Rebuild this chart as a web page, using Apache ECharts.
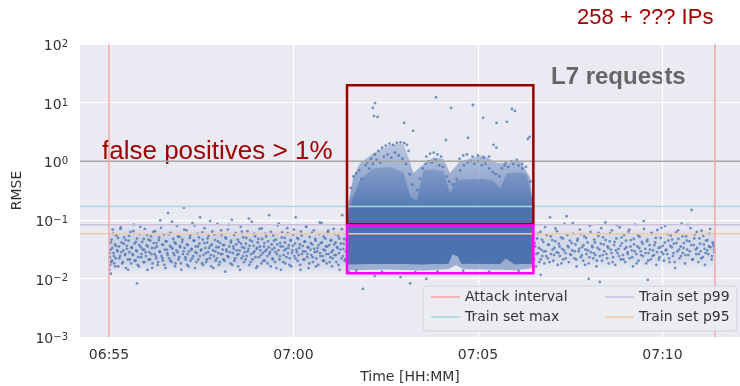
<!DOCTYPE html>
<html>
<head>
<meta charset="utf-8">
<script src="https://cdn.jsdelivr.net/npm/echarts@6/dist/echarts.min.js"></script>
<style>
  html, body { margin: 0; padding: 0; background: #fff; }
  #chart { width: 740px; height: 386px; }
</style>
</head>
<body>
<div id="chart"></div>
<script>
// x values are minutes after 06:00
const xTicks = [55, 60, 65, 70];
const xRange = [54.214, 72.1];
const attackInterval = [55.0, 71.42];
const trainMax = 0.169;
const trainP99 = 0.082;
const trainP95 = 0.058;
const onePercent = 1.0;
// [x0, x1, yBottom, yTop]
const redBox = [61.45, 66.5, 0.084, 19.7];
const magentaBox = [61.45, 66.5, 0.0123, 0.08];

// dense attack cloud, envelopes
const coreTop = [[61.45,0.1],[61.5,0.15],[61.6,0.165],[62.5,0.168],[63.2,0.16],[63.4,0.165],[64.3,0.166],[65.5,0.165],[66.4,0.165],[66.5,0.12]];
const coreBottom = [[61.45,0.02],[61.5,0.0175],[62.5,0.0178],[63.5,0.0175],[64.2,0.018],[64.3,0.026],[64.45,0.024],[64.55,0.018],[65.6,0.0178],[65.75,0.022],[65.85,0.02],[66.0,0.0175],[66.5,0.018]];
const fringeBottom = [[61.45,0.016],[61.5,0.0138],[62.5,0.0142],[63.5,0.0136],[64.2,0.0145],[64.4,0.017],[64.6,0.0145],[65.6,0.014],[66.0,0.0138],[66.5,0.015]];
const midLowTop = [[61.45,0.11],[61.62,0.25],[61.8,0.48],[62.16,0.75],[62.62,0.8],[62.98,0.65],[63.16,0.25],[63.34,0.21],[63.52,0.7],[63.79,0.72],[64.06,0.68],[64.24,0.28],[64.42,0.48],[65.14,0.5],[65.41,0.46],[65.6,0.35],[65.78,0.63],[66.14,0.65],[66.32,0.6],[66.45,0.25],[66.5,0.12]];
const midHighTop = [[61.45,0.14],[61.62,0.53],[61.8,0.93],[62.16,1.37],[62.62,1.9],[62.98,2.0],[63.11,1.17],[63.25,0.63],[63.43,0.8],[63.79,1.17],[64.06,1.1],[64.24,0.63],[64.51,1.0],[65.14,1.27],[65.51,0.93],[65.78,0.93],[66.14,1.0],[66.41,0.53],[66.5,0.15]];
const preHazeTop = [[55.0,0.09],[61.45,0.09]];
const preHazeBottom = [[55.0,0.012],[61.45,0.012]];
const postHazeTop = [[66.5,0.085],[71.42,0.085]];
const postHazeBottom = [[66.5,0.014],[71.42,0.014]];

const preAttack = [
 [55.01,0.014],[55.02,0.023],[55.03,0.017],[55.04,0.031],[55.05,0.012],[55.07,0.046],[55.08,0.02],[55.1,0.068],[55.12,0.027],[55.14,0.018],
 [55.16,0.038],[55.18,0.022],[55.2,0.054],[55.23,0.029],[55.25,0.016],[55.27,0.035],[55.3,0.024],[55.32,0.074],[55.34,0.041],[55.37,0.019],
 [55.39,0.03],[55.41,0.05],[55.44,0.026],[55.46,0.015],[55.48,0.036],[55.51,0.021],[55.53,0.044],[55.55,0.028],[55.58,0.062],[55.6,0.018],
 [55.62,0.033],[55.65,0.025],[55.67,0.083],[55.69,0.039],[55.72,0.02],[55.74,0.03],[55.76,0.048],[55.79,0.023],[55.81,0.016],[55.83,0.057],
 [55.86,0.034],[55.88,0.026],[55.9,0.042],[55.93,0.019],[55.95,0.031],[55.97,0.07],[56.0,0.024],[56.02,0.037],[56.04,0.014],[56.07,0.046],
 [56.09,0.028],[56.11,0.021],[56.14,0.052],[56.16,0.033],[56.18,0.018],[56.21,0.04],[56.23,0.026],[56.25,0.064],[56.28,0.022],[56.3,0.035],
 [56.32,0.017],[56.35,0.045],[56.37,0.029],[56.39,0.098],[56.42,0.024],[56.44,0.038],[56.46,0.02],[56.49,0.056],[56.51,0.031],[56.53,0.015],
 [56.56,0.043],[56.58,0.027],[56.6,0.13],[56.63,0.022],[56.65,0.036],[56.67,0.06],[56.7,0.019],[56.72,0.032],[56.74,0.047],[56.77,0.025],
 [56.79,0.016],[56.81,0.039],[56.84,0.078],[56.86,0.028],[56.88,0.021],[56.91,0.051],[56.93,0.034],[56.95,0.018],[56.98,0.042],[57.0,0.026],
 [57.03,0.16],[57.05,0.033],[57.07,0.023],[57.1,0.066],[57.12,0.017],[57.14,0.037],[57.17,0.029],[57.19,0.049],[57.21,0.02],[57.24,0.031],
 [57.26,0.088],[57.28,0.024],[57.31,0.044],[57.33,0.015],[57.35,0.035],[57.38,0.027],[57.4,0.058],[57.42,0.021],[57.45,0.039],[57.47,0.11],
 [57.49,0.03],[57.52,0.018],[57.54,0.046],[57.56,0.025],[57.59,0.072],[57.61,0.033],[57.63,0.019],[57.66,0.041],[57.68,0.028],[57.7,0.053],
 [57.73,0.022],[57.75,0.036],[57.77,0.016],[57.8,0.063],[57.82,0.03],[57.84,0.024],[57.87,0.045],[57.89,0.02],[57.91,0.034],[57.94,0.085],
 [57.96,0.027],[57.98,0.017],[58.01,0.04],[58.03,0.026],[58.05,0.055],[58.08,0.031],[58.1,0.021],[58.12,0.037],[58.15,0.013],[58.17,0.048],
 [58.19,0.029],[58.22,0.068],[58.24,0.023],[58.26,0.035],[58.29,0.018],[58.31,0.044],[58.33,0.1],[58.36,0.027],[58.38,0.032],[58.4,0.02],
 [58.43,0.059],[58.45,0.038],[58.47,0.025],[58.5,0.016],[58.52,0.042],[58.54,0.03],[58.57,0.076],[58.59,0.022],[58.61,0.034],[58.64,0.05],
 [58.66,0.019],[58.68,0.028],[58.71,0.039],[58.73,0.024],[58.75,0.064],[58.78,0.032],[58.8,0.017],[58.82,0.045],[58.85,0.026],[58.87,0.093],
 [58.89,0.021],[58.92,0.036],[58.94,0.029],[58.96,0.052],[58.99,0.015],[59.01,0.033],[59.03,0.041],[59.06,0.023],[59.08,0.07],[59.1,0.03],
 [59.13,0.018],[59.15,0.047],[59.17,0.027],[59.2,0.035],[59.22,0.02],[59.24,0.058],[59.27,0.031],[59.29,0.024],[59.31,0.043],[59.34,0.12],
 [59.36,0.028],[59.38,0.016],[59.41,0.038],[59.43,0.022],[59.45,0.054],[59.48,0.033],[59.5,0.019],[59.52,0.046],[59.55,0.026],[59.57,0.08],
 [59.59,0.03],[59.62,0.021],[59.64,0.04],[59.66,0.014],[59.69,0.061],[59.71,0.035],[59.73,0.025],[59.76,0.049],[59.78,0.018],[59.8,0.032],
 [59.83,0.072],[59.85,0.027],[59.87,0.037],[59.9,0.022],[59.92,0.044],[59.94,0.016],[59.97,0.03],[59.99,0.056],[60.02,0.024],[60.04,0.039],
 [60.06,0.11],[60.09,0.028],[60.11,0.02],[60.13,0.047],[60.16,0.033],[60.18,0.017],[60.2,0.063],[60.23,0.026],[60.25,0.036],[60.27,0.021],
 [60.3,0.042],[60.32,0.029],[60.34,0.075],[60.37,0.023],[60.39,0.034],[60.41,0.015],[60.44,0.051],[60.46,0.031],[60.48,0.025],[60.51,0.038],
 [60.53,0.019],[60.55,0.066],[60.58,0.028],[60.6,0.044],[60.62,0.022],[60.65,0.033],[60.67,0.017],[60.69,0.057],[60.72,0.027],[60.74,0.04],
 [60.76,0.088],[60.79,0.024],[60.81,0.031],[60.83,0.02],[60.86,0.048],[60.88,0.035],[60.9,0.018],[60.93,0.062],[60.95,0.026],[60.97,0.037],
 [61.0,0.023],[61.02,0.045],[61.04,0.016],[61.07,0.03],[61.09,0.07],[61.11,0.025],[61.14,0.041],[61.16,0.019],[61.18,0.034],[61.21,0.053],
 [61.23,0.027],[61.25,0.014],[61.28,0.039],[61.3,0.022],[61.32,0.12],[61.35,0.032],[61.37,0.047],[61.39,0.02],[61.42,0.029],[61.44,0.036]
];

const preAttack2 = [
 [55.015,0.027],[55.045,0.041],[55.06,0.019],[55.09,0.033],[55.11,0.058],[55.135,0.024],[55.17,0.016],[55.19,0.036],[55.22,0.03],[55.245,0.049],
 [55.28,0.022],[55.31,0.07],[55.335,0.028],[55.36,0.018],[55.4,0.039],[55.43,0.025],[55.45,0.045],[55.49,0.032],[55.52,0.014],[55.545,0.053],
 [55.57,0.021],[55.61,0.034],[55.64,0.026],[55.66,0.064],[55.7,0.02],[55.73,0.042],[55.75,0.029],[55.78,0.017],[55.82,0.037],[55.845,0.076],
 [55.87,0.023],[55.91,0.031],[55.94,0.047],[55.96,0.019],[55.99,0.028],[56.03,0.055],[56.05,0.035],[56.08,0.021],[56.12,0.044],[56.15,0.026],
 [56.17,0.015],[56.2,0.062],[56.24,0.033],[56.27,0.024],[56.29,0.04],[56.33,0.019],[56.36,0.05],[56.38,0.028],[56.41,0.073],[56.45,0.022],
 [56.47,0.037],[56.5,0.017],[56.54,0.043],[56.57,0.031],[56.59,0.025],[56.62,0.057],[56.66,0.02],[56.69,0.034],[56.71,0.093],[56.75,0.027],
 [56.78,0.041],[56.8,0.018],[56.83,0.03],[56.87,0.052],[56.9,0.023],[56.92,0.036],[56.96,0.014],[56.99,0.046],[57.02,0.029],[57.04,0.068],
 [57.08,0.021],[57.11,0.038],[57.13,0.026],[57.16,0.016],[57.2,0.054],[57.23,0.032],[57.25,0.022],[57.29,0.044],[57.32,0.079],[57.34,0.028],
 [57.37,0.019],[57.41,0.035],[57.44,0.05],[57.46,0.024],[57.5,0.031],[57.53,0.061],[57.55,0.017],[57.58,0.04],[57.62,0.027],[57.65,0.021],
 [57.67,0.048],[57.71,0.033],[57.74,0.095],[57.76,0.025],[57.79,0.038],[57.83,0.015],[57.86,0.056],[57.88,0.029],[57.92,0.022],[57.95,0.043],
 [57.97,0.034],[58.0,0.019],[58.04,0.066],[58.07,0.026],[58.09,0.037],[58.13,0.02],[58.16,0.05],[58.18,0.031],[58.21,0.024],[58.25,0.082],
 [58.28,0.028],[58.3,0.041],[58.34,0.017],[58.37,0.035],[58.39,0.055],[58.42,0.022],[58.46,0.03],[58.49,0.046],[58.51,0.026],[58.55,0.014],
 [58.58,0.039],[58.6,0.063],[58.63,0.024],[58.67,0.033],[58.7,0.021],[58.72,0.049],[58.76,0.029],[58.79,0.105],[58.81,0.036],[58.84,0.019],
 [58.88,0.043],[58.91,0.027],[58.93,0.058],[58.97,0.023],[59.0,0.032],[59.02,0.016],[59.05,0.047],[59.09,0.035],[59.12,0.025],[59.14,0.071],
 [59.18,0.02],[59.21,0.04],[59.23,0.029],[59.26,0.052],[59.3,0.018],[59.33,0.034],[59.35,0.026],[59.39,0.062],[59.42,0.031],[59.44,0.021],
 [59.47,0.044],[59.51,0.028],[59.54,0.015],[59.56,0.038],[59.6,0.086],[59.63,0.024],[59.65,0.035],[59.68,0.05],[59.72,0.019],[59.75,0.03],
 [59.77,0.041],[59.81,0.023],[59.84,0.059],[59.86,0.033],[59.89,0.017],[59.93,0.045],[59.96,0.027],[59.98,0.036],[60.01,0.068],[60.05,0.022],
 [60.08,0.031],[60.1,0.049],[60.14,0.025],[60.17,0.038],[60.19,0.014],[60.22,0.054],[60.26,0.029],[60.29,0.021],[60.31,0.043],[60.35,0.077],
 [60.38,0.026],[60.4,0.034],[60.43,0.018],[60.47,0.04],[60.5,0.06],[60.52,0.023],[60.56,0.032],[60.59,0.047],[60.61,0.016],[60.64,0.029],
 [60.68,0.037],[60.71,0.09],[60.73,0.024],[60.77,0.041],[60.8,0.02],[60.82,0.052],[60.85,0.03],[60.89,0.026],[60.92,0.035],[60.94,0.065],
 [60.98,0.019],[61.01,0.044],[61.03,0.028],[61.06,0.022],[61.1,0.038],[61.13,0.057],[61.15,0.025],[61.19,0.033],[61.22,0.017],[61.24,0.048],
 [61.27,0.031],[61.31,0.069],[61.34,0.024],[61.36,0.039],[61.4,0.021],[61.43,0.045]
];

const postAttack = [
 [66.52,0.021],[66.55,0.035],[66.57,0.016],[66.6,0.048],[66.63,0.027],[66.66,0.019],[66.69,0.062],[66.71,0.031],[66.74,0.024],[66.77,0.042],
 [66.8,0.018],[66.83,0.029],[66.86,0.055],[66.89,0.022],[66.92,0.037],[66.95,0.11],[66.98,0.026],[67.01,0.045],[67.04,0.02],[67.07,0.033],
 [67.1,0.071],[67.13,0.028],[67.16,0.017],[67.19,0.039],[67.22,0.024],[67.25,0.05],[67.28,0.032],[67.31,0.021],[67.34,0.085],[67.37,0.027],
 [67.4,0.115],[67.43,0.036],[67.46,0.019],[67.49,0.044],[67.52,0.025],[67.55,0.03],[67.58,0.058],[67.61,0.022],[67.64,0.038],[67.67,0.016],
 [67.7,0.047],[67.73,0.029],[67.76,0.068],[67.79,0.023],[67.82,0.034],[67.85,0.02],[67.88,0.052],[67.91,0.031],[67.94,0.026],[67.97,0.041],
 [68.0,0.018],[68.03,0.079],[68.06,0.028],[68.09,0.036],[68.12,0.022],[68.15,0.046],[68.18,0.025],[68.21,0.016],[68.24,0.033],[68.27,0.06],
 [68.3,0.024],[68.33,0.039],[68.36,0.02],[68.39,0.05],[68.42,0.029],[68.45,0.09],[68.48,0.026],[68.51,0.035],[68.54,0.018],[68.57,0.043],
 [68.6,0.031],[68.63,0.066],[68.66,0.023],[68.69,0.037],[68.72,0.017],[68.75,0.048],[68.78,0.027],[68.81,0.032],[68.84,0.074],[68.87,0.021],
 [68.9,0.04],[68.93,0.025],[68.96,0.055],[68.99,0.019],[69.02,0.034],[69.05,0.028],[69.08,0.063],[69.11,0.022],[69.14,0.045],[69.17,0.03],
 [69.2,0.016],[69.23,0.038],[69.26,0.083],[69.29,0.026],[69.32,0.035],[69.35,0.02],[69.38,0.051],[69.41,0.029],[69.44,0.042],[69.47,0.024],
 [69.5,0.07],[69.53,0.032],[69.56,0.018],[69.59,0.046],[69.62,0.027],[69.65,0.037],[69.68,0.021],[69.71,0.058],[69.74,0.03],[69.77,0.025],
 [69.8,0.041],[69.83,0.017],[69.86,0.067],[69.89,0.033],[69.92,0.023],[69.95,0.049],[69.98,0.028],[70.01,0.036],[70.04,0.02],[70.07,0.078],
 [70.1,0.031],[70.13,0.026],[70.16,0.044],[70.19,0.019],[70.22,0.054],[70.25,0.034],[70.28,0.024],[70.31,0.039],[70.34,0.015],[70.37,0.061],
 [70.4,0.029],[70.43,0.047],[70.46,0.022],[70.49,0.035],[70.52,0.086],[70.55,0.027],[70.58,0.04],[70.61,0.018],[70.64,0.052],[70.67,0.031],
 [70.7,0.025],[70.73,0.043],[70.76,0.072],[70.79,0.147],[70.82,0.021],[70.85,0.037],[70.88,0.056],[70.91,0.026],[70.94,0.033],[70.97,0.019],
 [71.0,0.048],[71.03,0.029],[71.06,0.065],[71.09,0.023],[71.12,0.038],[71.15,0.017],[71.18,0.044],[71.21,0.03],[71.24,0.026],[71.27,0.058],
 [71.3,0.034],[71.33,0.021],[71.36,0.041],[71.39,0.035],[71.41,0.028]
];

const postAttack2 = [
 [66.535,0.04],[66.58,0.026],[66.62,0.058],[66.65,0.033],[66.7,0.021],[66.73,0.046],[66.78,0.029],[66.82,0.075],[66.85,0.024],[66.9,0.038],
 [66.94,0.019],[66.97,0.052],[67.02,0.031],[67.06,0.025],[67.09,0.043],[67.14,0.064],[67.18,0.027],[67.21,0.035],[67.26,0.018],[67.3,0.048],
 [67.33,0.03],[67.38,0.022],[67.42,0.055],[67.45,0.034],[67.5,0.026],[67.54,0.04],[67.57,0.088],[67.62,0.029],[67.66,0.021],[67.69,0.044],
 [67.74,0.032],[67.78,0.057],[67.81,0.025],[67.86,0.037],[67.9,0.017],[67.93,0.049],[67.98,0.03],[68.02,0.023],[68.05,0.062],[68.1,0.034],
 [68.14,0.027],[68.17,0.041],[68.22,0.02],[68.26,0.053],[68.29,0.031],[68.34,0.072],[68.38,0.025],[68.41,0.038],[68.46,0.045],[68.5,0.022],
 [68.53,0.033],[68.58,0.059],[68.62,0.027],[68.65,0.019],[68.7,0.042],[68.74,0.03],[68.77,0.081],[68.82,0.024],[68.86,0.036],[68.89,0.05],
 [68.94,0.021],[68.98,0.032],[69.01,0.044],[69.06,0.026],[69.1,0.068],[69.13,0.035],[69.18,0.023],[69.22,0.047],[69.25,0.029],[69.3,0.018],
 [69.34,0.054],[69.37,0.033],[69.42,0.025],[69.46,0.039],[69.49,0.095],[69.54,0.027],[69.58,0.043],[69.61,0.02],[69.66,0.031],[69.7,0.06],
 [69.73,0.024],[69.78,0.037],[69.82,0.049],[69.85,0.028],[69.9,0.021],[69.94,0.034],[69.97,0.073],[70.02,0.026],[70.06,0.041],[70.09,0.03],
 [70.14,0.057],[70.18,0.022],[70.21,0.036],[70.26,0.046],[70.3,0.027],[70.33,0.019],[70.38,0.04],[70.42,0.066],[70.45,0.031],[70.5,0.024],
 [70.54,0.052],[70.57,0.033],[70.62,0.025],[70.66,0.044],[70.69,0.082],[70.74,0.029],[70.78,0.037],[70.81,0.021],[70.86,0.048],[70.9,0.031],
 [70.93,0.062],[70.98,0.026],[71.02,0.039],[71.05,0.022],[71.1,0.053],[71.14,0.032],[71.17,0.027],[71.22,0.045],[71.26,0.035],[71.29,0.07],
 [71.34,0.024],[71.38,0.038],[71.4,0.031]
];

const attackDots = [
 [62.21,9.8],[62.15,8.1],[62.18,5.9],[62.28,5.7],[63.86,12.4],[64.27,8.1],[64.86,9.1],[65.92,7.8],[66.0,7.2],[65.14,5.5],
 [65.5,4.5],[65.78,4.7],[63.0,4.5],[63.24,3.3],[64.13,2.3],[64.73,2.5],[66.35,2.4],[66.4,2.6],[65.5,1.7],[65.42,1.9],
 [62.0,0.95],[62.1,1.1],[62.2,1.3],[62.3,1.5],[62.4,1.7],[62.5,1.85],[62.6,2.0],[62.7,1.9],[62.8,2.05],[62.9,2.1],
 [63.0,2.05],[63.07,1.9],[63.12,1.5],[63.6,1.2],[63.7,1.35],[63.8,1.4],[63.9,1.3],[64.0,1.2],[64.5,1.1],[64.6,1.25],
 [64.7,1.3],[64.85,1.2],[65.0,1.25],[65.15,1.15],[65.3,1.2],[65.75,0.95],[65.9,1.0],[66.05,1.05],[66.2,0.9],
 [61.55,0.35],[61.62,0.55],[61.7,0.62],[61.78,0.7],[61.85,0.5],[61.95,0.85],[62.05,0.75],[62.15,0.9],[62.25,1.05],[62.35,0.95],
 [62.45,1.2],[62.55,1.3],[62.65,1.15],[62.75,1.4],[62.85,1.25],[62.95,1.1],[63.05,0.9],[63.15,0.6],[63.22,0.4],[63.35,0.32],
 [63.42,0.5],[63.5,0.75],[63.58,0.9],[63.65,1.0],[63.75,0.95],[63.85,1.05],[63.95,0.85],[64.05,0.8],[64.15,0.55],[64.22,0.45],
 [64.32,0.4],[64.42,0.5],[64.52,0.7],[64.62,0.85],[64.72,0.95],[64.8,1.0],[64.9,0.9],[65.0,1.0],[65.1,0.85],[65.2,0.9],
 [65.3,0.75],[65.4,0.65],[65.48,0.6],[65.58,0.55],[65.65,0.75],[65.72,0.85],[65.82,0.8],[65.95,0.9],[66.1,0.85],[66.2,0.75],
 [66.3,0.8],[66.42,0.45],
 [61.5,0.013],[61.7,0.0135],[62.4,0.013],[63.3,0.0128],[63.9,0.0132],[64.6,0.0135],[65.3,0.013],[66.1,0.0134]
];

const lowDots = [[55.76,0.0082],[61.88,0.0066],[63.16,0.0082],[62.2,0.011],[62.9,0.0105],[63.6,0.0098],[68.0,0.0098],[68.3,0.0087],[69.6,0.0094],[66.7,0.0115]];

function hhmm(v) {
  const t = 360 + v;
  const h = Math.floor(t / 60), m = Math.round(t % 60);
  return String(h).padStart(2, '0') + ':' + String(m).padStart(2, '0');
}

const blue = '#4c72b0';
const font = 'DejaVu Sans';

function fade(stops) {
  return new echarts.graphic.LinearGradient(0, 0, 0, 1,
    stops.map(s => ({ offset: s[0], color: 'rgba(76,114,176,' + s[1] + ')' })));
}

function band(upper, lower, fill, z) {
  return {
    type: 'custom', z: z, silent: true, clip: true,
    data: [upper[0]],
    renderItem: function (params, api) {
      const pts = upper.concat(lower.slice().reverse()).map(p => api.coord(p));
      return { type: 'polygon', shape: { points: pts }, style: { fill: fill } };
    }
  };
}

function box(b, color) {
  return {
    type: 'custom', z: 6, silent: true, clip: true,
    data: [[b[0], b[2]]],
    renderItem: function (params, api) {
      const p0 = api.coord([b[0], b[3]]);
      const p1 = api.coord([b[1], b[2]]);
      return { type: 'rect', shape: { x: p0[0], y: p0[1], width: p1[0] - p0[0], height: p1[1] - p0[1] },
        style: { fill: 'none', stroke: color, lineWidth: 2.5 } };
    }
  };
}

function hline(name, v, color) {
  return { name: name, type: 'line', z: 5, symbol: 'none', silent: true,
    data: [[xRange[0], v], [xRange[1], v]],
    itemStyle: { color: color }, lineStyle: { color: color, width: 1.5 } };
}

function vline(v) {
  return { name: 'Attack interval', type: 'line', z: 5, symbol: 'none', silent: true,
    data: [[v, 0.001], [v, 100]],
    itemStyle: { color: '#f4a6aa' }, lineStyle: { color: '#f4a6aa', width: 1.5 } };
}

const legendIcon = 'path://M0,0H29V1.6H0Z';
const legendBase = { orient: 'vertical', top: 290, padding: 0, itemWidth: 29, itemHeight: 14, itemGap: 6, z: 20,
  icon: legendIcon, textStyle: { fontFamily: font, fontSize: 14, color: '#333' } };

const chart = echarts.init(document.getElementById('chart'));
chart.setOption({
  animation: false,
  grid: { left: 80, right: 0, top: 44, bottom: 49, show: true, backgroundColor: '#eaeaf2', borderWidth: 0,
    containLabel: false, outerBoundsMode: 'none' },
  xAxis: {
    type: 'value', min: xRange[0], max: xRange[1],
    name: 'Time [HH:MM]', nameLocation: 'middle', nameGap: 33,
    nameTextStyle: { fontFamily: font, fontSize: 14, color: '#333' },
    axisLine: { show: false },
    axisTick: { show: false, customValues: xTicks },
    axisLabel: { customValues: xTicks, formatter: hhmm, margin: 11, fontFamily: font, fontSize: 14, color: '#333' },
    splitLine: { show: true, lineStyle: { color: '#fff', width: 1.2 } }
  },
  yAxis: {
    type: 'log', logBase: 10, min: 0.001, max: 100, interval: 1,
    name: 'RMSE', nameLocation: 'middle', nameGap: 51,
    nameTextStyle: { fontFamily: font, fontSize: 14, color: '#333' },
    axisLine: { show: false }, axisTick: { show: false },
    minorSplitLine: { show: false },
    axisLabel: {
      margin: 12, padding: [5, 0, 0, 0],
      formatter: function (v) {
        const e = Math.round(Math.log10(v));
        return '{b|10}{s|' + (e < 0 ? '\u2212' + (-e) : e) + '}';
      },
      rich: {
        b: { fontFamily: font, fontSize: 14, color: '#333' },
        s: { fontFamily: font, fontSize: 10, color: '#333', verticalAlign: 'top' }
      }
    },
    splitLine: { show: true, lineStyle: { color: '#fff', width: 1.2 } }
  },
  legend: [
    Object.assign({ data: ['Attack interval', 'Train set max'], left: 431 }, legendBase),
    Object.assign({ data: ['Train set p99', 'Train set p95'], left: 605 }, legendBase)
  ],
  graphic: [
    { type: 'rect', z: 10, shape: { x: 423, y: 286, width: 314, height: 45, r: 4 },
      style: { fill: 'rgba(236,236,243,0.85)', stroke: '#d2d2da', lineWidth: 1 } },
    { type: 'text', left: 577, top: 7, style: { text: '258 + ??? IPs', fill: '#a00000', font: '22px "Liberation Sans"' } },
    { type: 'text', left: 551, top: 65, style: { text: 'L7 requests', fill: '#666', font: 'bold 24px "Liberation Sans"' } },
    { type: 'text', left: 102, top: 139, style: { text: 'false positives > 1%', fill: '#a00000', font: '26px "Liberation Sans"' } }
  ],
  series: [
    band(preHazeTop, preHazeBottom, fade([[0, 0], [0.3, 0.2], [0.75, 0.2], [1, 0]]), 1),
    band(postHazeTop, postHazeBottom, fade([[0, 0], [0.3, 0.13], [0.75, 0.13], [1, 0]]), 1),
    band(midHighTop, coreBottom, fade([[0, 0.3], [0.4, 0.6], [0.6, 0.85], [1, 0.85]]), 2),
    band(midLowTop, coreBottom, fade([[0, 0.35], [0.5, 0.75], [1, 0.75]]), 2),
    band(coreTop, fringeBottom, 'rgba(76,114,176,0.5)', 2),
    band(coreTop, coreBottom, blue, 2),
    { type: 'scatter', z: 3, silent: true, symbolSize: 2.8,
      itemStyle: { color: blue, opacity: 0.75 },
      data: preAttack.concat(preAttack2, postAttack, postAttack2, attackDots, lowDots) },
    hline('Train set max', trainMax, '#a6d9de'),
    hline('Train set p99', trainP99, '#c9c0dc'),
    hline('Train set p95', trainP95, '#f2c9a8'),
    { type: 'line', z: 5, symbol: 'none', silent: true, data: [[xRange[0], onePercent], [xRange[1], onePercent]],
      lineStyle: { color: '#a5a5a5', width: 1.5 } },
    vline(attackInterval[0]),
    vline(attackInterval[1]),
    box(redBox, '#990000'),
    box(magentaBox, '#ff00ff')
  ]
});
</script>
</body>
</html>
